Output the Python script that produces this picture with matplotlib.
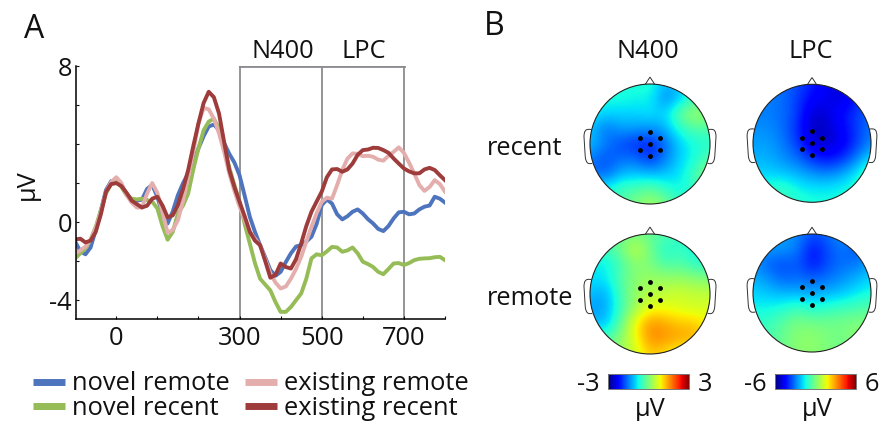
import numpy as np
import matplotlib
matplotlib.use("Agg")
import matplotlib.pyplot as plt
from matplotlib.patches import Circle, Polygon, PathPatch
from matplotlib.path import Path
from matplotlib.lines import Line2D
from matplotlib.cm import ScalarMappable
from matplotlib.colors import Normalize

plt.rcParams['font.family'] = ['Open Sans', 'DejaVu Sans']

W, H = 881, 421

times = [-100 + 12.5*i for i in range(73)]
novel_remote = [-1.0,-1.5,-1.65,-1.3,-0.4,0.6,1.64,2.1,2.07,1.85,1.47,1.15,1.1,1.15,1.7,1.9,1.3,0.4,-0.07,0.55,1.38,2.0,2.5,3.1,3.78,4.4,4.9,5.0,4.72,4.05,3.5,3.05,2.4,1.35,0.27,-0.5,-1.18,-1.8,-2.46,-2.75,-2.55,-2.05,-1.6,-1.25,-1.18,-1.0,-0.75,-0.1,0.87,1.16,0.95,0.4,0.14,0.3,0.53,0.65,0.44,0.15,-0.07,-0.35,-0.46,-0.2,0.19,0.5,0.53,0.4,0.44,0.65,0.79,0.85,1.3,1.2,1.0]
novel_recent = [-1.86,-1.6,-1.35,-0.9,-0.24,0.6,1.47,1.95,2.07,1.8,1.38,1.2,1.16,1.2,1.13,1.05,0.7,-0.2,-0.9,-0.5,0.44,0.85,1.47,2.7,3.78,4.7,5.15,5.3,4.8,3.8,2.8,1.9,1.04,-0.1,-1.1,-2.1,-2.9,-3.2,-3.5,-4.1,-4.6,-4.6,-4.35,-4.0,-3.66,-2.9,-1.86,-1.65,-1.7,-1.5,-1.27,-1.3,-1.52,-1.45,-1.3,-1.6,-2.03,-2.15,-2.3,-2.55,-2.67,-2.4,-2.12,-2.1,-2.2,-2.1,-1.95,-1.88,-1.86,-1.85,-1.8,-1.78,-1.95]
existing_remote = [-1.6,-1.45,-1.26,-0.9,-0.32,0.5,1.55,2.05,2.3,2.0,1.38,1.0,0.75,0.75,1.47,2.0,1.5,0.5,-0.55,-0.4,0.1,1.1,2.32,3.6,5.06,5.85,5.78,5.3,4.55,3.6,2.5,1.6,0.8,0.1,-0.5,-0.85,-1.2,-1.9,-2.63,-3.1,-3.4,-3.3,-2.9,-2.4,-1.78,-1.0,-0.24,0.45,1.04,1.25,1.2,1.9,2.67,3.25,3.52,3.5,3.38,3.4,3.35,3.2,3.15,3.4,3.6,3.83,3.55,3.05,2.5,1.9,1.6,1.8,2.15,1.95,1.56]
existing_recent = [-0.89,-0.85,-1.04,-0.95,-0.5,0.4,1.55,1.95,2.0,1.85,1.5,1.1,0.92,0.75,0.84,1.2,1.3,0.85,0.24,0.35,0.87,1.7,2.67,3.9,5.06,6.1,6.68,6.4,5.57,4.1,2.67,1.8,1.04,0.3,-0.5,-0.95,-1.18,-2.0,-2.85,-2.7,-2.12,-2.3,-2.38,-1.9,-1.09,-0.2,0.53,1.05,1.56,2.3,2.7,2.72,2.58,2.7,3.0,3.45,3.69,3.72,3.81,3.8,3.69,3.55,3.26,3.0,2.75,2.6,2.5,2.5,2.7,2.78,2.67,2.4,2.15]

series_names = ['novel remote', 'novel recent', 'existing remote', 'existing recent']
series_colors = ['#4F74BE', '#95BC56', '#E4AEAD', '#9E3B3B']
x_tick_labels = {0: '0', 300: '300', 500: '500', 700: '700'}
y_tick_labels = {8: '8', 0: '0', -4: '-4'}
windows = [300, 500, 700]

n400_recent = [
 [-0.7,-0.7,-0.7,-0.7,-0.6,-1.2,-1.0,-0.6,-0.6],
 [-0.7,-0.7,-0.7,-0.8,-0.8,-1.5,-1.1,-0.4,-0.4],
 [-0.8,-1.0,-1.0,-1.0,-0.9,-1.0,-0.1,0.3,0.1],
 [-1.1,-1.6,-1.3,-1.3,-1.4,-1.2,-0.6,-0.3,-0.4],
 [-1.1,-1.5,-1.8,-2.0,-2.1,-1.6,-1.0,-0.7,-0.6],
 [-1.5,-1.8,-1.6,-1.6,-2.0,-1.5,-1.0,-0.7,-0.3],
 [-1.6,-1.7,-1.2,-1.1,-1.2,-1.1,-0.9,-0.4,0.3],
 [-0.8,-0.8,-0.4,-0.4,-0.2,-0.6,-0.8,-0.5,0.1],
 [-0.6,-0.6,-0.4,0.0,0.3,0.0,-0.5,-0.6,-0.3]]
lpc_recent = [
 [-3.0,-3.0,-3.2,-3.6,-4.2,-4.8,-5.2,-4.2,-3.4],
 [-3.0,-3.0,-3.2,-3.8,-4.6,-4.8,-5.0,-4.2,-3.4],
 [-3.0,-3.0,-3.2,-3.8,-5.2,-5.0,-4.4,-3.8,-3.2],
 [-2.8,-2.8,-3.2,-4.0,-5.4,-5.2,-4.6,-3.8,-3.0],
 [-2.6,-2.6,-3.0,-3.8,-5.0,-5.2,-4.8,-3.8,-2.8],
 [-2.4,-2.4,-2.8,-3.2,-4.0,-4.4,-4.0,-3.0,-1.8],
 [-2.0,-2.0,-2.2,-2.4,-2.8,-3.0,-2.6,-1.8,-0.4],
 [-1.4,-1.2,-1.0,-1.6,-1.8,-1.8,-1.6,-1.2,-0.4],
 [-1.3,-1.2,-1.0,-1.2,-1.4,-1.4,-1.4,-1.2,-0.8]]
n400_remote = [
 [-0.4,-0.4,-0.2,-0.1,-0.2,-0.3,-0.5,-0.6,-0.6],
 [-0.5,-0.4,-0.1,0.6,-0.1,-0.7,-0.5,-0.8,-0.8],
 [-0.8,-0.9,-0.4,0.1,0.0,-0.4,-0.3,-0.6,-0.6],
 [-0.9,-0.9,-0.3,0.1,0.2,0.2,0.2,0.1,0.0],
 [-1.1,-1.3,-0.4,0.2,0.4,0.5,0.6,0.5,0.5],
 [-1.3,-1.3,-0.5,0.3,0.8,0.8,0.7,0.6,0.7],
 [-1.1,-1.2,-0.2,0.9,1.6,1.4,1.2,1.2,0.8],
 [-0.4,-0.4,0.1,0.8,1.6,1.5,1.4,1.4,0.8],
 [0.0,0.0,0.2,0.6,1.2,1.0,0.7,0.6,0.5]]
lpc_remote = [
 [-2.4,-2.6,-2.8,-2.8,-3.6,-3.2,-2.8,-2.6,-2.4],
 [-2.6,-2.6,-2.6,-3.0,-4.4,-3.6,-3.0,-3.6,-2.8],
 [-2.8,-3.4,-3.6,-3.4,-4.4,-3.6,-3.2,-3.2,-2.4],
 [-2.4,-2.8,-3.4,-3.2,-3.4,-3.2,-2.8,-2.4,-2.0],
 [-2.0,-2.2,-2.4,-2.4,-2.6,-2.4,-2.2,-1.8,-1.4],
 [-1.6,-1.6,-1.4,-1.0,-1.4,-1.2,-1.0,-0.8,-0.6],
 [-1.2,-1.0,-0.5,0.0,-0.2,-0.2,-0.1,0.0,0.0],
 [-1.0,-0.8,-0.3,0.2,0.3,0.0,-0.2,0.3,0.2],
 [-0.8,-0.6,-0.2,0.2,0.2,0.0,-0.2,0.0,0.0]]
electrode_x = [0.0, -0.17, 0.17, 0.0, -0.17, 0.17, 0.0]
electrode_y = [0.2, 0.095, 0.095, 0.0, -0.105, -0.105, -0.195]

fig = plt.figure(figsize=(W/100, H/100), dpi=100)
FS = 18.3

def box(l, t, r, b):
    return [l/W, 1-b/H, (r-l)/W, (b-t)/H]

def label(px, py, s, size=FS, ha='left', rot=0, va='baseline'):
    fig.text(px/W, 1-py/H, s, fontsize=size, ha=ha, va=va, rotation=rot, color='#111111')

# panel A
ax = fig.add_axes(box(76, 66, 445, 318.7))
ax.set_xlim(-98, 800)
ax.set_ylim(-4.95, 8)
for v in windows:
    ax.plot([v, v], [-4.95, 8], color='#8C8C90', lw=1.3, zorder=1, solid_capstyle='butt')
ax.plot([300, 700], [8, 8], color='#8C8C90', lw=2.0, zorder=1)
for vals, c, n in zip([novel_remote, novel_recent, existing_remote, existing_recent], series_colors, series_names):
    ax.plot(times, vals, color=c, lw=2.8, label=n, zorder=2, solid_joinstyle='round')
for s in ['top', 'right']:
    ax.spines[s].set_visible(False)
ax.spines['left'].set_linewidth(1.1)
ax.spines['bottom'].set_linewidth(1.1)
ax.set_xticks(list(range(0, 801, 100)))
ax.set_xticklabels([x_tick_labels.get(t, '') for t in range(0, 801, 100)])
ax.set_yticks(list(range(-4, 9, 2)))
ax.set_yticklabels([y_tick_labels.get(t, '') for t in range(-4, 9, 2)])
ax.tick_params(axis='both', direction='in', length=2.5, width=0.8, labelsize=FS, colors='#111111')
ax.tick_params(axis='x', pad=5)
ax.tick_params(axis='y', pad=3)
ax.patch.set_alpha(0)

label(27, 185, 'µV', ha='center', rot=90, va='center')
label(282.7, 57.5, 'N400', ha='center')
label(364, 57.5, 'LPC', ha='center')
label(23.5, 38, 'A', size=23)
label(484, 35, 'B', size=23)

leg_handles = [Line2D([], [], color=c, lw=5, solid_capstyle='butt') for c in series_colors]
fig.legend(leg_handles, series_names, ncol=2, loc='upper left', bbox_to_anchor=(33/W, 1-371.5/H),
           frameon=False, fontsize=18.4, handlelength=1.25, handletextpad=0.27, columnspacing=0.6,
           labelspacing=-0.02, borderpad=0, borderaxespad=0, labelcolor='#111111')

# panel B
def topo(cx, cy, r, grid, vmax):
    pad = 1.3
    a = fig.add_axes(box(cx-r*pad, cy-r*pad, cx+r*pad, cy+r*pad))
    a.set_xlim(-pad, pad); a.set_ylim(-pad, pad); a.axis('off')
    nose = Polygon([(-0.085, 0.985), (0, 1.115), (0.085, 0.985)], closed=True, fc='white', ec='#333333', lw=0.7)
    a.add_patch(nose)
    for sgn in (-1, 1):
        verts = [(sgn*0.98, 0.24), (sgn*1.07, 0.26), (sgn*1.10, 0.22), (sgn*1.10, 0.12),
                 (sgn*1.08, -0.20), (sgn*1.07, -0.33), (sgn*1.02, -0.34), (sgn*0.96, -0.32)]
        codes = [Path.MOVETO, Path.CURVE4, Path.CURVE4, Path.CURVE4, Path.LINETO, Path.CURVE4, Path.CURVE4, Path.CURVE4]
        a.add_patch(PathPatch(Path(verts, codes), fc='white', ec='#333333', lw=0.7))
    e = 1 + 1/8
    im = a.imshow(np.array(grid), cmap='jet', vmin=-vmax, vmax=vmax, extent=[-e, e, -e, e],
                  interpolation='bicubic', origin='upper', zorder=2)
    a.set_xlim(-pad, pad); a.set_ylim(-pad, pad)
    clip = Circle((0, 0), 1.0, transform=a.transData)
    im.set_clip_path(clip)
    a.add_patch(Circle((0, 0), 1.0, fc='none', ec='#222222', lw=0.8, zorder=3))
    a.plot(electrode_x, electrode_y, 'o', color='black', ms=3.5, mew=0, zorder=4)

topo(650, 144, 60, n400_recent, 3)
topo(812, 143.3, 59, lpc_recent, 6)
topo(650, 294, 60, n400_remote, 3)
topo(812, 293, 59, lpc_remote, 6)

def cbar(l, r, vmax):
    c = fig.add_axes(box(l, 374.3, r, 389))
    cb = fig.colorbar(ScalarMappable(Normalize(-vmax, vmax), 'jet'), cax=c, orientation='horizontal')
    cb.set_ticks([])
    cb.outline.set_edgecolor('#777777')
    cb.outline.set_linewidth(0.7)

cbar(608.3, 689.3, 3)
cbar(775.3, 856, 6)

label(648, 58, 'N400', ha='center')
label(811, 58, 'LPC', ha='center')
label(487, 155, 'recent')
label(487, 305, 'remote')
label(599.5, 390.7, '-3', ha='right')
label(698, 390.7, '3')
label(766.5, 390.7, '-6', ha='right')
label(865, 390.7, '6')
label(650, 416, 'µV', ha='center')
label(817, 416, 'µV', ha='center')

fig.savefig('out.png', dpi=100)
